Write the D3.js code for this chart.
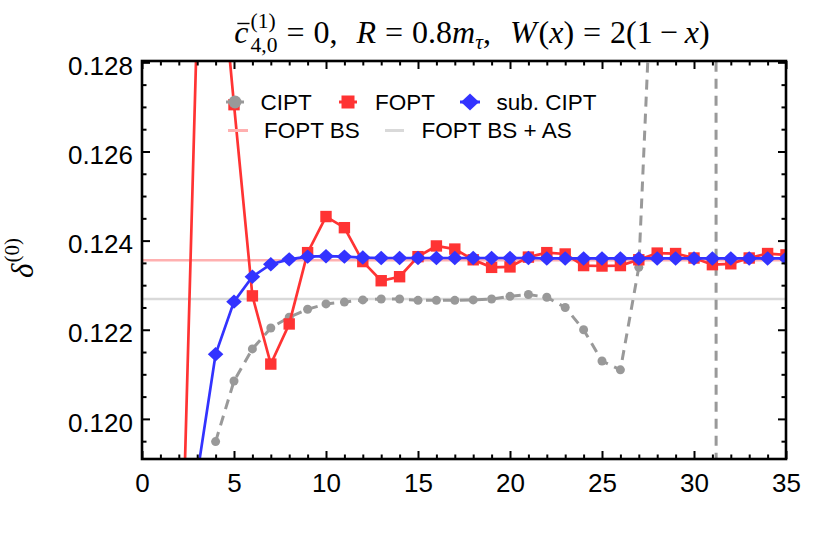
<!DOCTYPE html>
<html><head><meta charset="utf-8">
<script src="https://cdn.jsdelivr.net/npm/d3@7"></script>
<style>body{margin:0;background:#fff} svg{display:block}</style>
</head><body><svg id="c" width="830" height="545"></svg>
<script>
// ---------------- data ----------------
const foptOrders = [2,3,4,5,6,7,8,9,10,11,12,13,14,15,16,17,18,19,20,21,22,23,24,25,26,27,28,29,30,31,32,33,34,35];
const foptValues = [0.1140,0.1290,0.1315,0.12705,0.12276,0.12123,0.12213,0.12373,0.12454,0.12429,0.12353,0.12310,0.12319,0.12364,0.12388,0.12381,0.12357,0.12340,0.12341,0.12363,0.12373,0.12370,0.12344,0.12343,0.12344,0.12357,0.12372,0.12371,0.12361,0.12346,0.12348,0.12361,0.12371,0.12368];
const ciptOrders = [4,5,6,7,8,9,10,11,12,13,14,15,16,17,18,19,20,21,22,23,24,25,26,27,28,29,30,31,32];
const ciptValues = [0.11949,0.12085,0.12157,0.12204,0.12228,0.12246,0.12258,0.12262,0.12267,0.12269,0.12269,0.12266,0.12266,0.12266,0.12267,0.12269,0.12275,0.12279,0.12273,0.12250,0.12200,0.12130,0.12110,0.12340,0.13288,0.16,0.25,0.52,-1.46];
const subOrders = [3,4,5,6,7,8,9,10,11,12,13,14,15,16,17,18,19,20,21,22,23,24,25,26,27,28,29,30,31,32,33,34,35];
const subValues = [0.11874,0.12145,0.12263,0.12319,0.12347,0.12358,0.12364,0.12365,0.12364,0.12362,0.12361,0.12361,0.12361,0.12361,0.12361,0.12361,0.12361,0.12361,0.12361,0.12360,0.12360,0.12360,0.12360,0.12360,0.12360,0.12360,0.12360,0.12360,0.12360,0.12360,0.12360,0.12360,0.12360];
const bsValue = 0.12356;
const bsAsValue = 0.12269;
const xTicks = [0,5,10,15,20,25,30,35];
const yTicks = [0.120,0.122,0.124,0.126,0.128];
const seriesNames = ["CIPT","FOPT","sub. CIPT"];
const lineNames = ["FOPT BS","FOPT BS + AS"];

// ---------------- setup ----------------
const C = {red:"#ff3333", blue:"#3333ff", gray:"#999999", pink:"#ffb0b0", lgray:"#d9d9d9"};
const SANS = "'Liberation Sans', Arial, sans-serif";
const SERIF = "'Liberation Serif', 'DejaVu Serif', serif";
const L=142, R=786, T=61, B=459;
const x = d3.scaleLinear().domain([0,35]).range([L,R]);
const y = d3.scaleLinear().domain([0.1191,0.12803]).range([B,T]);
const svg = d3.select('#c');
svg.append('rect').attr('width',830).attr('height',545).attr('fill','#fff');
svg.append('defs').append('clipPath').attr('id','clip')
  .append('rect').attr('x',L).attr('y',T).attr('width',R-L).attr('height',B-T);
const plot = svg.append('g').attr('clip-path','url(#clip)');

// reference lines
[[bsValue,C.pink],[bsAsValue,C.lgray]].forEach(([v,c])=>{
  plot.append('line').attr('x1',x(0)).attr('x2',x(35)).attr('y1',y(v)).attr('y2',y(v))
    .attr('stroke',c).attr('stroke-width',2.6);
});

const line = d3.line().x(d=>x(d[0])).y(d=>y(d[1]));
const cipt = ciptOrders.map((k,i)=>[k,ciptValues[i]]);
const fopt = foptOrders.map((k,i)=>[k,foptValues[i]]);
const sub = subOrders.map((k,i)=>[k,subValues[i]]);

// CIPT
plot.append('path').datum(cipt).attr('d',line).attr('fill','none')
  .attr('stroke',C.gray).attr('stroke-width',3).attr('stroke-dasharray','10,7');
plot.selectAll('.cc').data(cipt).enter().append('circle')
  .attr('cx',d=>x(d[0])).attr('cy',d=>y(d[1])).attr('r',4.5).attr('fill',C.gray);
// FOPT
plot.append('path').datum(fopt).attr('d',line).attr('fill','none')
  .attr('stroke',C.red).attr('stroke-width',2.7);
plot.selectAll('.fs').data(fopt).enter().append('rect')
  .attr('x',d=>x(d[0])-5.7).attr('y',d=>y(d[1])-5.7).attr('width',11.4).attr('height',11.4).attr('fill',C.red);
// sub. CIPT
plot.append('path').datum(sub).attr('d',line).attr('fill','none')
  .attr('stroke',C.blue).attr('stroke-width',2.7);
const diamond = (cx,cy,hw,hh)=>`M${cx-hw},${cy}L${cx},${cy-hh}L${cx+hw},${cy}L${cx},${cy+hh}Z`;
plot.selectAll('.sd').data(sub).enter().append('path')
  .attr('d',d=>diamond(x(d[0]),y(d[1]),7.8,7.2)).attr('fill',C.blue);

// ---------------- axes ----------------
const xMinor = d3.range(0,36).filter(v=>v%5!==0);
const yMinor = d3.range(0,18).map(i=>+(0.1195+i*0.0005).toFixed(4)).filter(v=>v<0.1281 && !yTicks.some(t=>Math.abs(t-v)<1e-6));
function styleAxis(g){
  g.select('.domain').remove();
  g.selectAll('.tick line').attr('stroke','#000').attr('stroke-width',2);
  g.selectAll('text').style('font-family',SANS).style('font-size','26px').attr('fill','#000');
}
svg.append('g').attr('transform',`translate(0,${B})`)
  .call(d3.axisBottom(x).tickValues(xTicks).tickSize(-8).tickPadding(15).tickFormat(d3.format('d'))).call(styleAxis);
svg.append('g').attr('transform',`translate(0,${B})`)
  .call(d3.axisBottom(x).tickValues(xMinor).tickSize(-4.5).tickFormat('')).call(styleAxis);
svg.append('g').attr('transform',`translate(0,${T})`)
  .call(d3.axisTop(x).tickValues(xTicks).tickSize(-8).tickFormat('')).call(styleAxis);
svg.append('g').attr('transform',`translate(0,${T})`)
  .call(d3.axisTop(x).tickValues(xMinor).tickSize(-4.5).tickFormat('')).call(styleAxis);
const gl = svg.append('g').attr('transform',`translate(${L},0)`)
  .call(d3.axisLeft(y).tickValues(yTicks).tickSize(-8).tickPadding(9).tickFormat(d3.format('.3f'))).call(styleAxis);
gl.selectAll('text').attr('dy','0.47em');
svg.append('g').attr('transform',`translate(${L},0)`)
  .call(d3.axisLeft(y).tickValues(yMinor).tickSize(-4.5).tickFormat('')).call(styleAxis);
svg.append('g').attr('transform',`translate(${R},0)`)
  .call(d3.axisRight(y).tickValues(yTicks).tickSize(-8).tickFormat('')).call(styleAxis);
svg.append('g').attr('transform',`translate(${R},0)`)
  .call(d3.axisRight(y).tickValues(yMinor).tickSize(-4.5).tickFormat('')).call(styleAxis);
svg.append('rect').attr('x',L).attr('y',T).attr('width',R-L).attr('height',B-T)
  .attr('fill','none').attr('stroke','#000').attr('stroke-width',2.6);

// ---------------- legend ----------------
const lg = svg.append('g').style('font-family',SANS).style('font-size','22.5px');
function lgText(t,xx,yy){ lg.append('text').attr('x',xx).attr('y',yy).text(t).attr('fill','#000'); }
const r1 = 102, r2 = 130.5;
lg.append('line').attr('x1',226).attr('x2',244).attr('y1',r1).attr('y2',r1).attr('stroke',C.gray).attr('stroke-width',3);
lg.append('circle').attr('cx',235).attr('cy',r1).attr('r',6.5).attr('fill',C.gray);
lgText(seriesNames[0],260.5,r1+8);
lg.append('line').attr('x1',339).attr('x2',357).attr('y1',r1).attr('y2',r1).attr('stroke',C.red).attr('stroke-width',3);
lg.append('rect').attr('x',348-6.5).attr('y',r1-6.5).attr('width',13).attr('height',13).attr('fill',C.red);
lgText(seriesNames[1],375,r1+8);
lg.append('line').attr('x1',460).attr('x2',480).attr('y1',r1).attr('y2',r1).attr('stroke',C.blue).attr('stroke-width',3);
lg.append('path').attr('d',diamond(470,r1,9,8.5)).attr('fill',C.blue);
lgText(seriesNames[2],496.5,r1+8);
lg.append('line').attr('x1',228).attr('x2',248).attr('y1',r2).attr('y2',r2).attr('stroke',C.pink).attr('stroke-width',3);
lgText(lineNames[0],264,r2+7.5);
lg.append('line').attr('x1',385).attr('x2',404).attr('y1',r2).attr('y2',r2).attr('stroke',C.lgray).attr('stroke-width',3);
lgText(lineNames[1],421.5,r2+7.5);

// ---------------- math text helper ----------------
function mathGroup(parent, pieces, size){
  const g = parent.append('g').style('font-family',SERIF).attr('fill','#000');
  let cx = 0;
  pieces.forEach(p=>{
    if(p.gap!==undefined){ cx += p.gap; return; }
    if(p.stack){
      let w = 0;
      p.stack.forEach(s=>{
        const el = g.append('text').attr('x',cx).attr('y',s.dy).style('font-size',s.size+'px')
          .style('font-style',s.it?'italic':'normal').text(s.t);
        w = Math.max(w, el.node().getComputedTextLength());
      });
      cx += w; return;
    }
    const el = g.append('text').attr('x',cx).attr('y',p.dy||0).style('font-size',(p.size||size)+'px')
      .style('font-style',p.it?'italic':'normal').text(p.t);
    const w = el.node().getComputedTextLength();
    if(p.bar){ g.append('line').attr('x1',cx+3).attr('x2',cx+w+1).attr('y1',-19.5).attr('y2',-19.5).attr('stroke','#000').attr('stroke-width',1.4); }
    cx += w;
  });
  return {g, width:cx};
}
// title
const tp = [
  {t:'c',it:true,bar:true},{gap:2},{stack:[{t:'(1)',size:21.5,dy:-15},{t:'4,0',size:21.5,dy:9}]},{gap:9},
  {t:'='},{gap:9},{t:'0,'},{gap:19},
  {t:'R',it:true},{gap:9},{t:'='},{gap:9},{t:'0.8'},{t:'m',it:true},{t:'τ',it:true,size:21.5,dy:6},{t:','},{gap:19},
  {t:'W',it:true},{gap:2},{t:'('},{t:'x',it:true},{t:')'},{gap:9},{t:'='},{gap:9},{t:'2(1'},{gap:7},{t:'−'},{gap:7},{t:'x',it:true},{t:')'}
];
const title = mathGroup(svg, tp, 32);
title.g.attr('transform',`translate(${472 - title.width/2},43)`);
// y label
const yl = mathGroup(svg, [{t:'δ',it:true},{gap:1},{t:'(0)',size:21,dy:-14}], 31);
yl.g.attr('transform',`translate(33,${258 + yl.width/2}) rotate(-90)`);
</script></body></html>
